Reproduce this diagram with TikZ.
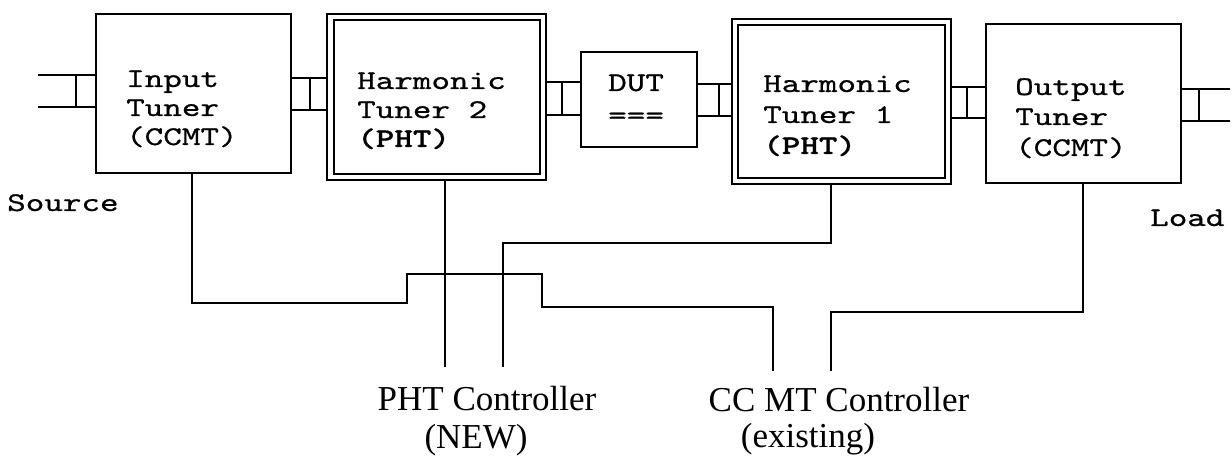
\documentclass[tikz,border=0pt]{standalone}
\usepackage{fontspec}
\newfontfamily\monoreg{lmmono10-regular.otf}[FakeStretch=1.31,FakeBold=0.7]
\newfontfamily\monobold{lmmonolt10-bold.otf}[FakeStretch=1.31,FakeBold=0.7]
\newfontfamily\serifrm{Liberation Serif}
\tikzset{
  box/.style={draw, line width=1.8pt, inner sep=0pt, outer sep=0pt},
  wire/.style={line width=1.8pt},
  tt/.style={font=\monoreg\fontsize{27}{29}\selectfont, inner sep=0pt, anchor=base west},
  ttb/.style={font=\monobold\fontsize{27}{29}\selectfont, inner sep=0pt, anchor=base west},
  ctl/.style={font=\serifrm\fontsize{35}{38}\selectfont, inner sep=0pt, anchor=base}
}
\begin{document}
\begin{tikzpicture}[x=1pt,y=-1pt]
\useasboundingbox (0,0) rectangle (1232,457);
% boxes
\node[box, minimum width=195pt, minimum height=159pt] (it) at (193.5,93.5) {};
\node[box, minimum width=219pt, minimum height=166pt] (ht2) at (436.5,97) {};
\node[box, minimum width=206pt, minimum height=154pt] (ht2in) at (437,97) {};
\node[box, minimum width=116pt, minimum height=95pt] (dut) at (639,99.5) {};
\node[box, minimum width=219pt, minimum height=165pt] (ht1) at (841.5,101.5) {};
\node[box, minimum width=207pt, minimum height=153pt] (ht1in) at (841.5,101.5) {};
\node[box, minimum width=195pt, minimum height=159pt] (ot) at (1083.5,103.5) {};
% texts
\node[tt] (t1a) at (126,87) {Input};
\node[tt] (t1b) at (126,116) {Tuner};
\node[tt] (t1c) at (126,145) {(CCMT)};
\node[tt] (t2a) at (357,89) {Harmonic};
\node[tt] (t2b) at (357,118) {Tuner 2};
\node[ttb] (t2c) at (357,147) {(PHT)};
\node[tt] (t3a) at (608,91) {DUT};
\node[tt] (t3b) at (608,124) {===};
\node[tt] (t4a) at (763,92) {Harmonic};
\node[tt] (t4b) at (763,123) {Tuner 1};
\node[ttb] (t4c) at (763,154) {(PHT)};
\node[tt] (t5a) at (1015,95) {Output};
\node[tt] (t5b) at (1015,125) {Tuner};
\node[tt] (t5c) at (1015,156) {(CCMT)};
\node[tt] (src) at (7,211) {Source};
\node[tt] (load) at (1150,226) {Load};
% controller labels
\node[ctl] (pht1) at (487,410) {PHT Controller};
\node[ctl] (pht2) at (476,448) {(NEW)};
\node[ctl] (cc1) at (839,411) {CC MT Controller};
\node[ctl] (cc2) at (808,447) {(existing)};
% transmission-line stubs
\coordinate (ls) at (38,0);
\coordinate (rs) at (1230,0);
\draw[wire] (ls |- 0,75) -- (it.west |- 0,75);
\draw[wire] (ls |- 0,107) -- (it.west |- 0,107);
\draw[wire] (76,75) -- (76,107);
\draw[wire] (it.east |- 0,78) -- (ht2.west |- 0,78);
\draw[wire] (it.east |- 0,110) -- (ht2.west |- 0,110);
\draw[wire] (310,78) -- (310,110);
\draw[wire] (ht2.east |- 0,82) -- (dut.west |- 0,82);
\draw[wire] (ht2.east |- 0,115) -- (dut.west |- 0,115);
\draw[wire] (562,82) -- (562,115);
\draw[wire] (dut.east |- 0,84) -- (ht1.west |- 0,84);
\draw[wire] (dut.east |- 0,116) -- (ht1.west |- 0,116);
\draw[wire] (719,84) -- (719,116);
\draw[wire] (ht1.east |- 0,87) -- (ot.west |- 0,87);
\draw[wire] (ht1.east |- 0,118) -- (ot.west |- 0,118);
\draw[wire] (967,87) -- (967,118);
\draw[wire] (ot.east |- 0,89) -- (rs |- 0,89);
\draw[wire] (ot.east |- 0,121) -- (rs |- 0,121);
\draw[wire] (1199,89) -- (1199,121);
% control wires
\coordinate (e1) at (773,371);
\coordinate (e2) at (445,367);
\coordinate (e3) at (503,367);
\coordinate (e4) at (831,371);
\draw[wire] (it.south -| 192,0) |- (407,303) |- (542,274) |- (773,307) -- (e1);
\draw[wire] (ht2.south -| e2) -- (e2);
\draw[wire] (ht1.south -| 831,0) |- (503,243) -- (e3);
\draw[wire] (ot.south -| 1083,0) |- (e4 |- 0,312) -- (e4);
\end{tikzpicture}
\end{document}
